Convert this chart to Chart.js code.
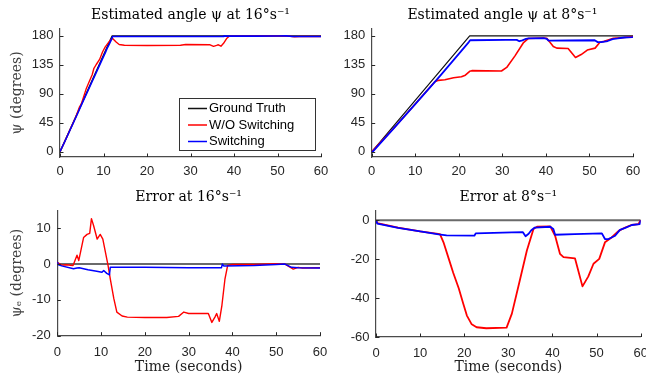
<!DOCTYPE html>
<html><head><meta charset="utf-8">
<script src="https://cdn.jsdelivr.net/npm/chart.js@4"></script>
<style>
html,body{margin:0;padding:0;background:#fff;}
#wrap{position:relative;width:646px;height:383px;overflow:hidden;background:#fff;}
#wrap canvas{position:absolute;left:0;top:0;}
</style></head><body>
<div id="wrap">
<canvas id="c1" width="646" height="383"></canvas>
<canvas id="c2" width="646" height="383"></canvas>
<canvas id="c3" width="646" height="383"></canvas>
<canvas id="c4" width="646" height="383"></canvas>
</div>
<script>
// ---------- tick labels ----------
const xTicks = [0, 10, 20, 30, 40, 50, 60];
const angleTicks = [0, 45, 90, 135, 180];
const fastErrTicks = [-20, -10, 0, 10];
const slowErrTicks = [-60, -40, -20, 0];
const legendLabels = ['Ground Truth', 'W/O Switching', 'Switching'];

// ---------- 16 deg/s : estimated angle ----------
const fastGtT = [0, 12, 60];
const fastGtV = [0, 180, 180];
const fastWoT = [0, 1, 3.6, 4.5, 4.9, 6, 6.8, 7.4, 7.8, 8.3, 9.1, 9.8, 10.4, 11, 11.6, 12.1, 12.9, 13.6, 14.8, 20, 27.7, 28.9, 34.5, 35.3, 36, 36.4, 37, 37.6, 38.3, 38.9, 45, 52, 53.9, 55, 60];
const fastWoV = [0.5, 14.7, 53.6, 70, 74.5, 97.4, 110.3, 119.6, 129.7, 135.2, 143.5, 155.3, 163, 168.3, 173.6, 175.9, 170.4, 166.6, 165.5, 165.1, 165.4, 166.6, 166.2, 163.7, 165.2, 166.2, 164, 168.5, 175.9, 179.6, 179.9, 180, 178.6, 179.1, 179];
const fastSwT = [0, 1, 4, 5, 7, 9, 10.5, 10.8, 11.3, 11.9, 12.1, 37.5, 37.7, 38, 45, 50, 52, 53.5, 60];
const fastSwV = [0.5, 14.5, 58.8, 74, 103.4, 133, 155.2, 160.2, 166.9, 175.5, 179, 179, 180, 179.6, 179.7, 179.9, 180, 179, 179];

// ---------- 8 deg/s : estimated angle ----------
const slowGtT = [0, 22.5, 60];
const slowGtV = [0, 180, 180];
const slowWoT = [0, 5, 10, 14.5, 15.3, 16.8, 18.8, 20.6, 21.5, 22.5, 23, 29.8, 31, 32.9, 34.8, 36, 39.5, 40.2, 41.7, 42.5, 45.1, 46.8, 48.1, 49.5, 51.3, 52.4, 53.4, 55.5, 58, 60];
const slowWoV = [0, 36.2, 74.2, 108.8, 111, 112, 115, 116.5, 119, 125, 126, 125.5, 131, 149, 169, 176, 176.8, 176.4, 163.5, 161, 160.4, 146.5, 151, 158, 161, 170, 171.5, 176.4, 177.6, 179];
const slowSwT = [0, 0.3, 5, 10, 14.2, 16, 22.3, 22.6, 30.8, 33.3, 33.9, 34.6, 35.2, 36, 39.5, 40.2, 40.6, 45, 51.2, 51.9, 52.7, 54.2, 55.3, 56.5, 58, 59.8, 60];
const slowSwV = [0, 0.6, 36, 74.2, 106.3, 120.2, 170.4, 173.2, 173.7, 173.8, 171.7, 173, 174.8, 176.2, 176.6, 175.5, 172.5, 172.8, 173.2, 170.3, 170.3, 172, 175, 176, 177.5, 178, 178.5];

// ---------- 16 deg/s : error ----------
const fastErrGtT = [0, 60];
const fastErrGtV = [0, 0];
const fastErrWoT = [0, 1, 2, 3.6, 4.5, 4.9, 6, 6.8, 7.4, 7.8, 8.3, 9.1, 9.8, 10.4, 11, 11.6, 12.1, 12.9, 13.6, 14.8, 16, 20, 25, 27.7, 28.9, 30, 34.5, 35.3, 36, 36.4, 37, 37.6, 38.3, 38.9, 40, 45, 50, 52, 53.9, 55, 56, 60];
const fastErrWoV = [0.5, -0.3, -0.2, -0.4, 2.5, 1.0, 7.4, 8.3, 8.6, 12.7, 10.7, 7.0, 8.3, 7.0, 3.3, -0.4, -4.1, -9.6, -13.4, -14.5, -14.8, -14.9, -14.9, -14.6, -13.4, -13.8, -13.8, -16.3, -14.8, -13.8, -16.0, -11.5, -4.1, -0.4, -0.1, -0.1, 0.1, 0.0, -1.4, -0.9, -1.1, -1.0];
const fastErrSwT = [0, 0.3, 1, 3.7, 4.5, 5, 7, 9, 10.2, 10.6, 11.3, 11.9, 12.1, 20, 30, 37.5, 37.7, 38, 45, 50, 52, 53.5, 55, 60];
const fastErrSwV = [0.6, -0.2, -0.5, -1.3, -1.1, -1.0, -1.6, -2.0, -2.3, -1.8, -2.6, -3.0, -0.9, -0.9, -1.0, -1.0, 0.0, -0.5, -0.4, -0.1, 0.0, -0.9, -1.0, -1.1];

// ---------- 8 deg/s : error ----------
const slowErrGtT = [0, 60];
const slowErrGtV = [0, 0];
const slowErrWoT = [0, 0.3, 5, 10, 14.5, 15.3, 16.5, 17.5, 18.75, 19.8, 20.6, 21.7, 22.8, 25, 29.6, 30.8, 32.7, 34.2, 35.7, 36.5, 39.5, 40.6, 41.7, 42.5, 45.1, 46.8, 48.1, 49.3, 50.6, 51.9, 53.4, 55, 56.5, 58, 59.5, 60];
const slowErrWoV = [0, -1.5, -3.8, -5.8, -7.2, -11.4, -19.9, -27, -35, -43, -49, -53.5, -55, -55.5, -55.2, -48, -30, -15.6, -4.6, -3.4, -3.2, -8, -17.3, -19, -19.6, -34, -29, -22.4, -19.9, -11.4, -8.9, -5.5, -3.8, -2.4, -2.0, 0];
const slowErrSwT = [0, 0.3, 5, 10, 14.2, 16, 22.3, 22.6, 30.8, 33.3, 33.9, 34.6, 35.2, 36, 39.5, 40.2, 40.6, 45, 51.2, 51.9, 52.7, 54.2, 55.3, 56.5, 58, 59.8, 60];
const slowErrSwV = [0, -1.8, -4.0, -5.8, -7.3, -7.8, -8.0, -6.8, -6.3, -6.2, -8.3, -7.0, -5.2, -3.8, -3.4, -4.5, -7.5, -7.2, -6.8, -9.7, -9.7, -8.0, -5.0, -4.0, -2.5, -2.0, 0];

// ---------- styles ----------
const RED = '#ff0000', BLUE = '#0000ff', GT_TOP = '#111111', GT_ERR = '#6a6a6a';
const legendColors = [GT_TOP, RED, BLUE];
const AXIS = '#4a4a4a', TICKCOL = '#262626';
const TICKFONT = {family: 'Liberation Sans', size: 13};
const SERIF = {family: 'DejaVu Serif', size: 14, weight: 'normal'};

function pts(t, v) { return t.map((x, i) => ({x: x, y: v[i]})); }
function ds(t, v, color, w, order) {
  return {data: pts(t, v), borderColor: color, backgroundColor: color, borderWidth: w,
          pointRadius: 0, tension: 0, fill: false, order: order, borderJoinStyle: 'round'};
}

const inTicks = {
  id: 'inTicks',
  afterDatasetsDraw(chart) {
    const ctx = chart.ctx, a = chart.chartArea, xs = chart.scales.x, ys = chart.scales.y;
    ctx.save();
    ctx.strokeStyle = TICKCOL; ctx.lineWidth = 1;
    ctx.beginPath();
    xs.ticks.forEach(t => { const p = Math.round(xs.getPixelForValue(t.value)) + 0.5; ctx.moveTo(p, a.bottom); ctx.lineTo(p, a.bottom - 3.5); });
    ys.ticks.forEach(t => { const p = Math.round(ys.getPixelForValue(t.value)) + 0.5; ctx.moveTo(a.left, p); ctx.lineTo(a.left + 3.5, p); });
    ctx.stroke();
    ctx.restore();
  }
};

const legendBox = {
  id: 'legendBox',
  afterDraw(chart, args, opts) {
    if (!opts.show) return;
    const ctx = chart.ctx, a = chart.chartArea;
    const w = 136, h = 52;
    const x1 = Math.round(a.right - 6 - w), y1 = Math.round(a.bottom - 7 - h);
    ctx.save();
    ctx.fillStyle = '#fff'; ctx.fillRect(x1, y1, w, h);
    ctx.strokeStyle = '#333'; ctx.lineWidth = 1; ctx.strokeRect(x1 + 0.5, y1 + 0.5, w, h);
    ctx.font = '13px "Liberation Sans"'; ctx.textBaseline = 'middle'; ctx.textAlign = 'left';
    legendLabels.forEach((lab, i) => {
      const y = y1 + 10.5 + i * 16.5;
      ctx.strokeStyle = legendColors[i]; ctx.lineWidth = 1.5;
      ctx.beginPath(); ctx.moveTo(x1 + 9, y); ctx.lineTo(x1 + 28, y); ctx.stroke();
      ctx.fillStyle = '#000'; ctx.fillText(lab, x1 + 30, y);
    });
    ctx.restore();
  }
};

function makeChart(id, c) {
  return new Chart(document.getElementById(id), {
    type: 'line',
    data: {datasets: c.datasets},
    options: {
      responsive: false, animation: false, events: [],
      layout: {autoPadding: false, padding: c.pad},
      plugins: {
        legend: {display: false}, tooltip: {enabled: false},
        title: {display: true, text: c.title, fullSize: false, color: '#000', font: SERIF, padding: {top: 7, bottom: 5}},
        legendBox: {show: !!c.legend}
      },
      scales: {
        x: {
          type: 'linear', min: 0, max: 60,
          grid: {display: false, drawTicks: false}, border: {display: true, color: AXIS, width: 1.2},
          ticks: {font: TICKFONT, color: TICKCOL, padding: c.xpad, maxRotation: 0},
          afterBuildTicks: s => { s.ticks = xTicks.map(v => ({value: v})); },
          afterFit: s => { s.height = c.xh; s.paddingLeft = 0; s.paddingRight = 0; },
          title: c.xtitle ? {display: true, text: c.xtitle, color: '#222', font: SERIF, padding: {top: 0, bottom: 7.6}} : {display: false}
        },
        y: {
          type: 'linear', min: c.ymin, max: c.ymax,
          grid: {display: false, drawTicks: false}, border: {display: true, color: AXIS, width: 1.2},
          ticks: {font: TICKFONT, color: TICKCOL, padding: 6.5},
          afterBuildTicks: s => { s.ticks = c.yticks.map(v => ({value: v})); },
          afterFit: s => { s.width = c.yw; s.paddingTop = 0; s.paddingBottom = 0; },
          title: c.ytitle ? {display: true, text: c.ytitle, color: '#404040', font: SERIF, padding: {top: 9, bottom: 0}} : {display: false}
        }
      }
    },
    plugins: [inTicks, legendBox]
  });
}

makeChart('c1', {
  title: 'Estimated angle \u03C8 at 16\u00B0s\u207B\u00B9', ytitle: '\u03C8 (degrees)', legend: true,
  ymin: -8, ymax: 191, yticks: angleTicks, yw: 60, xh: 30, xpad: 7,
  pad: {left: 0, right: 325, top: 0, bottom: 196},
  datasets: [ds(fastGtT, fastGtV, GT_TOP, 1.4, 2), ds(fastWoT, fastWoV, RED, 1.4, 1), ds(fastSwT, fastSwV, BLUE, 1.6, 0)]
});
makeChart('c2', {
  title: 'Estimated angle \u03C8 at 8\u00B0s\u207B\u00B9',
  ymin: -8, ymax: 191, yticks: angleTicks, yw: 60, xh: 30, xpad: 7,
  pad: {left: 311.7, right: 13, top: 0, bottom: 196},
  datasets: [ds(slowGtT, slowGtV, GT_TOP, 1.2, 2), ds(slowWoT, slowWoV, RED, 1.6, 1), ds(slowSwT, slowSwV, BLUE, 1.8, 0)]
});
makeChart('c3', {
  title: 'Error at 16\u00B0s\u207B\u00B9', ytitle: '\u03C8\u2091 (degrees)', xtitle: 'Time (seconds)',
  ymin: -20, ymax: 15, yticks: fastErrTicks, yw: 57.3, xh: 47.3, xpad: 9,
  pad: {left: 0, right: 326, top: 181.6, bottom: 0},
  datasets: [ds(fastErrGtT, fastErrGtV, GT_ERR, 2, 2), ds(fastErrWoT, fastErrWoV, RED, 1.4, 1), ds(fastErrSwT, fastErrSwV, BLUE, 1.5, 0)]
});
makeChart('c4', {
  title: 'Error at 8\u00B0s\u207B\u00B9', xtitle: 'Time (seconds)',
  ymin: -60, ymax: 5, yticks: slowErrTicks, yw: 60, xh: 46, xpad: 9,
  pad: {left: 316, right: 5.3, top: 181.6, bottom: 0},
  datasets: [ds(slowErrGtT, slowErrGtV, GT_ERR, 2, 2), ds(slowErrWoT, slowErrWoV, RED, 1.8, 1), ds(slowErrSwT, slowErrSwV, BLUE, 1.8, 0)]
});
</script>
</body></html>
